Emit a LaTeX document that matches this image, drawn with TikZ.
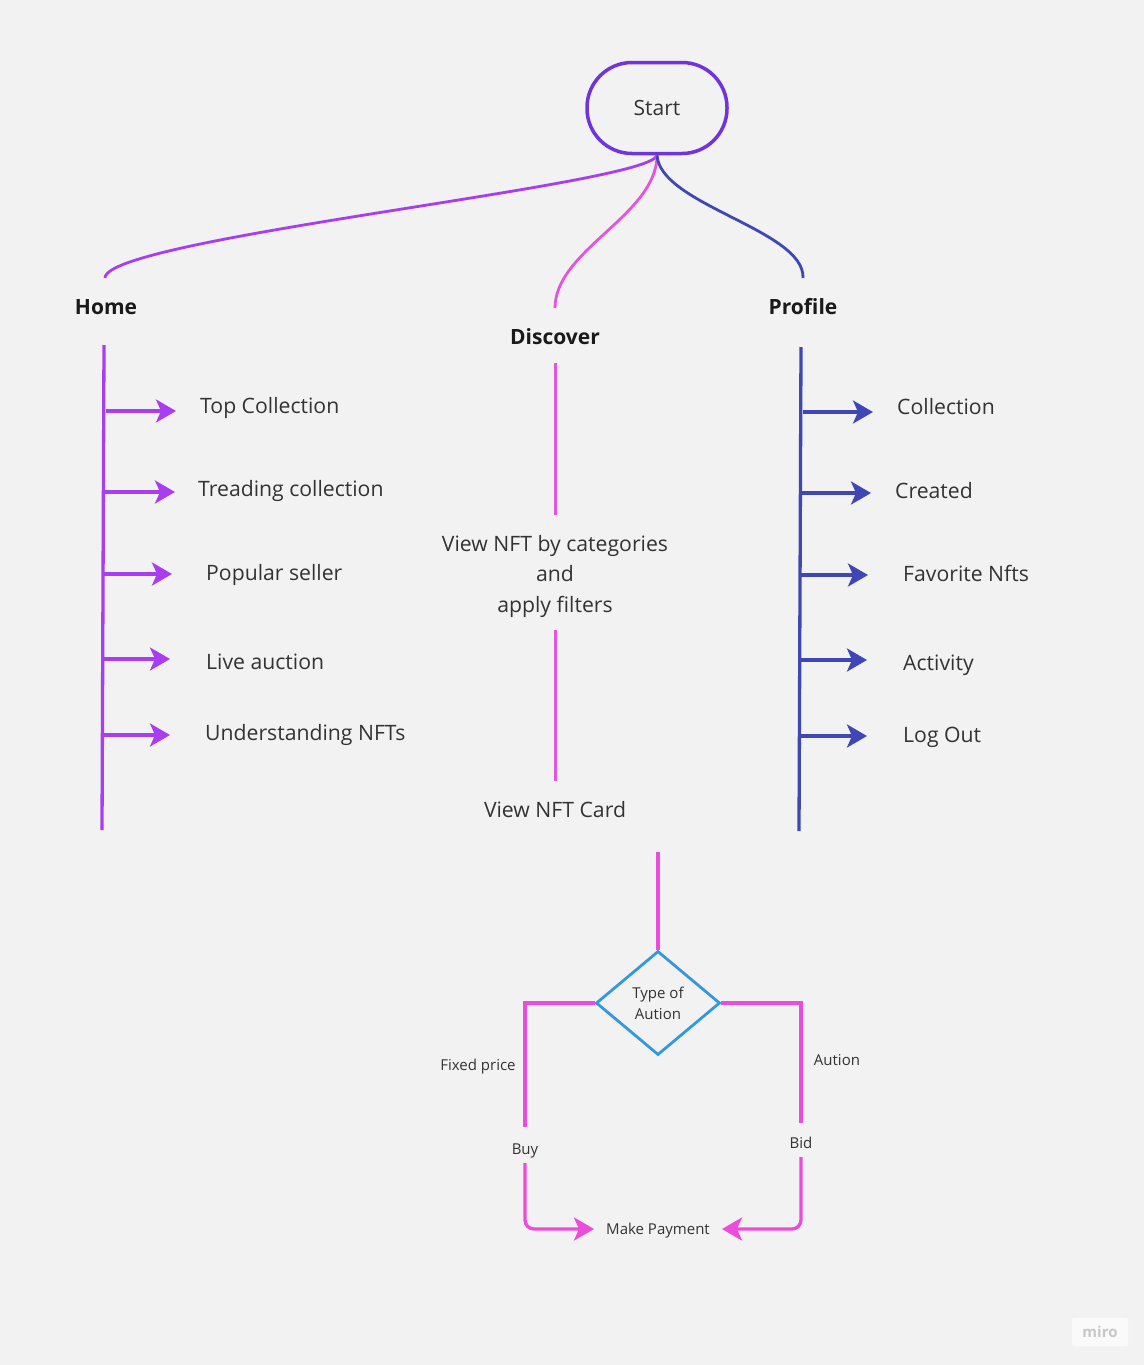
\documentclass[tikz,border=0pt]{standalone}
\usepackage{fontspec}
\setmainfont{Open Sans}
\usetikzlibrary{arrows.meta,shapes.geometric}
\definecolor{bgc}{RGB}{242,242,242}
\definecolor{startc}{RGB}{112,52,222}
\definecolor{homec}{RGB}{168,62,240}
\definecolor{discc}{RGB}{228,84,222}
\definecolor{profc}{RGB}{63,71,180}
\definecolor{diac}{RGB}{52,152,222}
\definecolor{payc}{RGB}{236,76,220}
\definecolor{txtc}{RGB}{51,51,51}
\definecolor{boldc}{RGB}{26,26,26}
\definecolor{miroc}{RGB}{200,200,200}
\begin{document}
\begin{tikzpicture}[x=1pt,y=-1pt,
  bigtext/.style={inner sep=0pt, text=txtc, font=\fontsize{21.2}{25}\selectfont},
  headtext/.style={inner sep=0pt, text=boldc, font=\fontsize{21}{25}\selectfont\bfseries},
  smalltext/.style={inner sep=0pt, text=txtc, font=\fontsize{15}{19}\selectfont},
  bigtip/.style={-{Stealth[length=20pt,width=23pt,inset=5pt]}},
  homeline/.style={draw=homec, line width=3.3pt},
  profline/.style={draw=profc, line width=3.3pt},
  discline/.style={draw=discc, line width=3pt},
  payline/.style={draw=payc, line width=3.3pt},
]
\fill[bgc] (0,0) rectangle (1144,1365);
\useasboundingbox (0,0) rectangle (1144,1365);

% Start
\node[draw=startc, line width=3.5pt, rectangle, rounded corners=45pt,
      minimum width=140pt, minimum height=91pt, inner sep=0pt,
      text=txtc, font=\fontsize{21}{25}\selectfont] (start) at (657,108) {Start};

% Headings
\node[headtext, anchor=base] (home) at (106,314) {Home};
\node[headtext, anchor=base] (disc) at (555,344) {Discover};
\node[headtext, anchor=base] (prof) at (803,314) {Profile};

\coordinate (hometop) at (105,278);
\coordinate (disctop) at (555,308);
\coordinate (proftop) at (803,278);

\draw[homec, line width=2.8pt] (start.south) .. controls (650,185) and (105,238) .. (hometop);
\draw[discc, line width=2.8pt] (start.south) .. controls (657,215) and (555,250) .. (disctop);
\draw[profc, line width=2.8pt] (start.south) .. controls (660,205) and (805,230) .. (proftop);

% Home branch
\coordinate (hl1) at (104,345);
\coordinate (hl2) at (102,830);
\draw[homeline] (hl1) -- (hl2);
\node[bigtext, anchor=base west] (h1) at (200,413) {Top Collection};
\node[bigtext, anchor=base west] (h2) at (198,496) {Treading collection};
\node[bigtext, anchor=base west] (h3) at (206,580) {Popular seller};
\node[bigtext, anchor=base west] (h4) at (206,669) {Live auction};
\node[bigtext, anchor=base west] (h5) at (205,740) {Understanding NFTs};
\coordinate (ha1) at (106,411); \coordinate (hb1) at (176,411);
\coordinate (ha2) at (105,492); \coordinate (hb2) at (175,492);
\coordinate (ha3) at (104,574); \coordinate (hb3) at (172,574);
\coordinate (ha4) at (103,659); \coordinate (hb4) at (170,659);
\coordinate (ha5) at (102,735); \coordinate (hb5) at (170,735);
\foreach \i in {1,...,5} {\draw[homeline, bigtip] (ha\i) -- (hb\i);}

% Profile branch
\coordinate (pl1) at (801,347);
\coordinate (pl2) at (799,831);
\draw[profline] (pl1) -- (pl2);
\node[bigtext, anchor=base west] (p1) at (897,414) {Collection};
\node[bigtext, anchor=base west] (p2) at (895,498) {Created};
\node[bigtext, anchor=base west] (p3) at (903,581) {Favorite Nfts};
\node[bigtext, anchor=base west] (p4) at (903,670) {Activity};
\node[bigtext, anchor=base west] (p5) at (903,742) {Log Out};
\coordinate (pa1) at (803,412); \coordinate (pb1) at (873,412);
\coordinate (pa2) at (801,493); \coordinate (pb2) at (871,493);
\coordinate (pa3) at (800,575); \coordinate (pb3) at (868,575);
\coordinate (pa4) at (800,660); \coordinate (pb4) at (867,660);
\coordinate (pa5) at (800,736); \coordinate (pb5) at (867,736);
\foreach \i in {1,...,5} {\draw[profline, bigtip] (pa\i) -- (pb\i);}

% Discover branch
\node[bigtext, align=center, font=\fontsize{21.2}{30.5}\selectfont] (cat) at (555,576)
  {View NFT by categories\\and\\apply filters};
\node[bigtext, anchor=base] (card) at (555,817) {View NFT Card};
\coordinate (d1) at (555,363);
\coordinate (d2) at (555,515);
\coordinate (d3) at (555,630);
\coordinate (d4) at (555,781);
\draw[discline] (d1) -- (d2);
\draw[discline] (d3) -- (d4);

% Decision
\node[draw=diac, line width=2.8pt, diamond, minimum width=124pt, minimum height=104pt,
      inner sep=0pt, align=center, text=txtc, font=\fontsize{15}{21}\selectfont] (dia) at (658,1003) {Type of\\Aution};
\coordinate (c1) at (658,852);
\draw[payline] (c1) -- (dia.north);

\node[smalltext, anchor=base] (fixed) at (478,1070) {Fixed price};
\node[smalltext, anchor=base] (aut) at (837,1065) {Aution};
\node[smalltext, minimum height=36pt, text height=18pt, text depth=0pt] (buy) at (525,1145) {Buy};
\node[smalltext, minimum height=34pt, text height=16pt, text depth=0pt] (bid) at (801,1140) {Bid};
\node[smalltext, inner xsep=12pt, inner ysep=0pt, text height=10pt, text depth=0pt] (pay) at (658,1229) {Make Payment};

\draw[payline] (dia.west) -| (buy.north);
\draw[payline] (dia.east) -| (bid.north);
\draw[payline, bigtip, rounded corners=9pt] (buy.south) |- (pay.west);
\draw[payline, bigtip, rounded corners=9pt] (bid.south) |- (pay.east);

% watermark
\node[fill=white!60!bgc, rounded corners=2pt, minimum width=56pt, minimum height=28pt,
      text=miroc, font=\fontsize{15}{15}\selectfont\bfseries] (miro) at (1100,1332) {miro};
\end{tikzpicture}
\end{document}
